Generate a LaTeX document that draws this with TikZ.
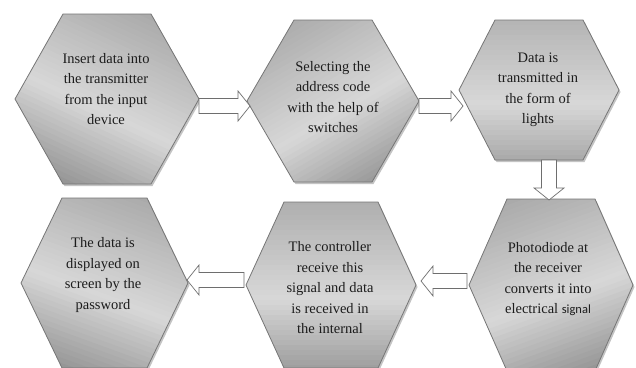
\documentclass[tikz,border=0pt]{standalone}
\usepackage{fontspec}
\setmainfont{Liberation Serif}
\newfontfamily\carlito{Carlito}
\usetikzlibrary{calc}
\definecolor{hexedge}{HTML}{767676}
\definecolor{hexdark}{HTML}{868686}
\definecolor{hexmid}{HTML}{A4A4A4}
\definecolor{hexlight}{HTML}{D8D8D8}
\definecolor{shadowc}{HTML}{C4C4C4}
\definecolor{arrowedge}{HTML}{6E6E6E}
\definecolor{txt}{HTML}{1C1C1C}
\tikzset{
  hexline/.style={draw=hexedge, line width=0.8pt, line join=miter},
  hexshadow/.style={fill=shadowc},
  arrowbox/.style={draw=arrowedge, fill=white, line width=0.7pt, line join=miter},
  hextext/.style={align=center, text=txt, inner sep=0pt,
    font=\fontsize{14.5}{20.5}\selectfont}
}
\newcommand{\hexoutline}[5]{({#1-#3},{#2}) -- ({#1-#4},{#2-#5}) -- ({#1+#4},{#2-#5})
     -- ({#1+#3},{#2}) -- ({#1+#4},{#2+#5}) -- ({#1-#4},{#2+#5}) -- cycle}
% #1 shading angle, #2 name, #3 cx, #4 cy, #5 half width, #6 half top edge, #7 half height
\newcommand{\hexa}[7][0]{%
  \fill[hexshadow] \hexoutline{#3+1.5}{#4+2}{#5}{#6}{#7};
  \begin{scope}
    \clip \hexoutline{#3}{#4}{#5}{#6}{#7};
    \begin{scope}[shift={(#3,#4)}, rotate=#1]
      \foreach \bi in {0,...,44}{%
        \pgfmathsetmacro\bandt{\bi/44}%
        \ifdim\bandt pt<0.55pt
          \pgfmathsetmacro\bandp{100*\bandt/0.55}%
          \colorlet{bandc}{hexlight!\bandp!hexmid}%
        \else
          \pgfmathsetmacro\bandp{100*(1-\bandt)/0.45}%
          \colorlet{bandc}{hexlight!\bandp!hexdark}%
        \fi
        \fill[bandc] (-120,{-110+5*\bi}) rectangle (120,{-110+5*\bi+5.6});
      }
    \end{scope}
  \end{scope}
  \draw[hexline] \hexoutline{#3}{#4}{#5}{#6}{#7};
  \coordinate (#2-w) at ({#3-#5},{#4});
  \coordinate (#2-e) at ({#3+#5},{#4});
}
% block arrow from coordinate #1 to coordinate #2
\newcommand{\blockarrow}[2]{%
  \coordinate (#1-#2-h) at ($(#2)!12pt!(#1)$);
  \draw[arrowbox] ($(#1)!7.5pt!90:(#2)$) -- ($(#1-#2-h)!7.5pt!90:(#2)$)
    -- ($(#1-#2-h)!15pt!90:(#2)$) -- (#2) -- ($(#1-#2-h)!15pt!-90:(#2)$)
    -- ($(#1-#2-h)!7.5pt!-90:(#2)$) -- ($(#1)!7.5pt!-90:(#2)$) -- cycle;
}
\begin{document}
\begin{tikzpicture}[x=1pt,y=-1pt]
\useasboundingbox (0,0) rectangle (636,367);
\clip (0,0) rectangle (636,367);
\fill[white] (0,0) rectangle (636,367);

\hexa[-25]{p1}{107}{99}{92}{44}{85}
\hexa[30]{p2}{333}{101}{86}{39}{81}
\hexa[0]{p3}{539}{90}{80}{44}{70}
\hexa[-20]{p4}{104.5}{283}{83.5}{42.5}{85}
\hexa[0]{p5}{331}{285}{85}{47}{83}
\hexa[20]{p6}{551}{285}{82}{44}{86}

\node[hextext] (h1) at (106,89) {Insert data into\\the transmitter\\from the input\\device};
\node[hextext] (h2) at (333,97) {Selecting the\\address code\\with the help of\\switches};
\node[hextext] (h3) at (538,90) {Data is\\transmitted in\\the form of\\lights};
\node[hextext] (h4) at (103,275) {The data is\\displayed on\\screen by the\\password};
\node[hextext] (h5) at (330,288) {The controller\\receive this\\signal and data\\is received in\\the internal};
\node[hextext] (h6) at (548,279) {Photodiode at\\the receiver\\converts it into\\electrical {\carlito\fontsize{12.5}{20.5}\selectfont signal}};

\coordinate (a1s) at (199,106);
\coordinate (a1t) at (250,106);
\coordinate (a2s) at (419,106);
\coordinate (a2t) at (463,106);
\coordinate (a3s) at (549,160);
\coordinate (a3t) at (549,200);
\coordinate (a4s) at (467,281);
\coordinate (a4t) at (421,281);
\coordinate (a5s) at (244,280);
\coordinate (a5t) at (187,280);

\blockarrow{a1s}{a1t}
\blockarrow{a2s}{a2t}
\blockarrow{a3s}{a3t}
\blockarrow{a4s}{a4t}
\blockarrow{a5s}{a5t}
\end{tikzpicture}
\end{document}
